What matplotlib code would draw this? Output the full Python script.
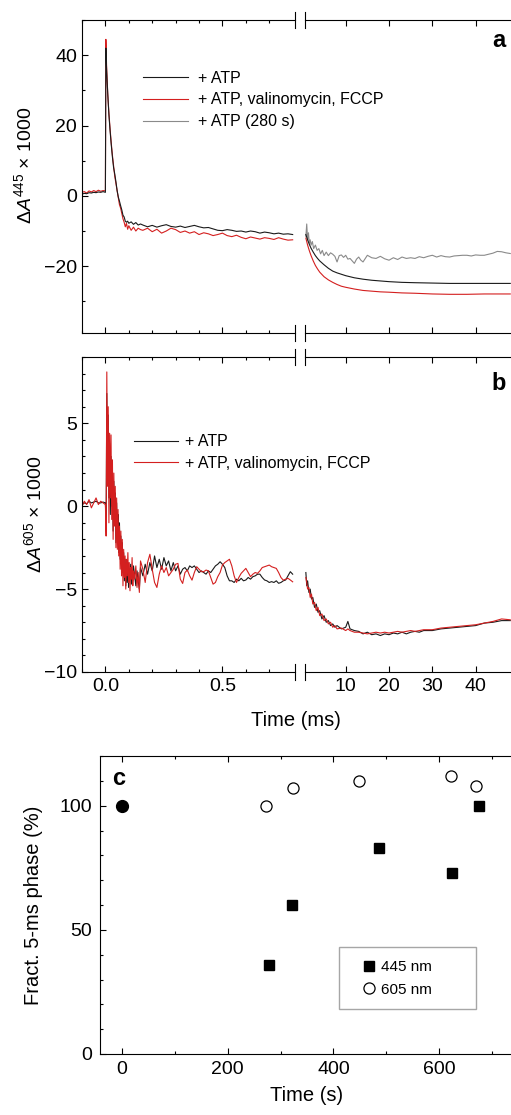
import numpy as np
import matplotlib
matplotlib.use("Agg")
import matplotlib.pyplot as plt
from matplotlib.ticker import MultipleLocator, FixedLocator
from matplotlib.patches import Rectangle
from matplotlib.lines import Line2D

plt.rcParams['font.family'] = ['Liberation Sans', 'DejaVu Sans']
plt.rcParams['mathtext.fontset'] = 'custom'
plt.rcParams['mathtext.rm'] = 'Liberation Sans'
plt.rcParams['mathtext.it'] = 'Liberation Sans:italic'
plt.rcParams['mathtext.bf'] = 'Liberation Sans:bold'
plt.rcParams['axes.unicode_minus'] = True

# ---------------- data: panel a (445 nm) ----------------
ta_left = [-0.10, -0.09, -0.08, -0.07, -0.06, -0.05, -0.04, -0.03, -0.02, -0.01, 0.0,
           0.002, 0.005, 0.01, 0.015, 0.02, 0.025, 0.03, 0.035, 0.04, 0.045, 0.05, 0.055,
           0.06, 0.065, 0.07, 0.075, 0.08, 0.085, 0.09, 0.095, 0.10, 0.11, 0.12, 0.13, 0.14, 0.15,
           0.16, 0.18, 0.20, 0.22, 0.24, 0.26, 0.28, 0.30, 0.32, 0.34, 0.36, 0.38, 0.40, 0.42,
           0.44, 0.46, 0.48, 0.50, 0.52, 0.54, 0.56, 0.58, 0.60, 0.62, 0.64, 0.66, 0.68, 0.70,
           0.72, 0.74, 0.76, 0.78, 0.80]
a_atp_left = [0.5, 0.7, 0.6, 0.9, 0.8, 1.0, 0.9, 1.1, 1.0, 1.2, 1.0,
              42, 36, 29, 23, 18.5, 14.5, 11, 8, 6.2, 4.0, 1.5, -0.3,
              -1.5, -2.8, -4.0, -5.5, -6.0, -7.2, -7.5, -7.2, -7.8, -7.4, -8.1, -7.6, -8.3, -8.0,
              -8.3, -8.8, -8.4, -8.9, -8.5, -8.2, -8.7, -8.9, -8.6, -9.0, -8.7, -8.4, -8.8, -9.1,
              -9.0, -9.4, -9.8, -9.9, -9.6, -9.8, -10.1, -10.0, -10.3, -10.0, -10.2, -10.6, -10.3, -10.5,
              -10.8, -10.6, -10.9, -10.8, -11.0]
a_val_left = [1.0, 1.2, 0.8, 1.4, 1.1, 1.5, 1.2, 1.6, 1.3, 1.5, 1.4,
              44.5, 37, 29, 23.5, 19, 15, 11.5, 8.5, 5.5, 3.5, 1.5, -0.5,
              -2.5, -3.5, -5.0, -6.5, -7.5, -8.8, -7.8, -9.5, -8.5, -9.8, -8.9, -10.0, -9.2, -9.6,
              -9.8, -9.2, -10.2, -9.5, -10.6, -10.0, -9.2, -9.6, -10.4, -10.0, -10.6, -10.2, -11.0, -10.5,
              -10.8, -11.3, -11.0, -10.6, -11.3, -11.6, -11.2, -11.8, -12.2, -11.7, -12.0, -12.3, -11.9, -12.1,
              -12.4, -11.9, -12.3, -12.6, -12.5]

ta_right = [0.8, 1.2, 1.6, 2.0, 2.5, 3, 3.5, 4, 5, 6, 7, 8, 9, 10, 12, 14, 16, 18, 20, 23,
            26, 30, 34, 38, 42, 46, 48]
a_atp_right = [-11.0, -12.5, -13.8, -14.9, -16.0, -17.0, -17.8, -18.5, -19.6, -20.6, -21.4, -21.9,
               -22.3, -22.7, -23.3, -23.7, -24.0, -24.2, -24.4, -24.6, -24.7, -24.8, -24.9, -24.9,
               -24.9, -24.9, -24.9]
a_val_right = [-12.0, -14.0, -15.6, -17.0, -18.5, -19.8, -20.8, -21.7, -23.0, -23.9, -24.6, -25.2,
               -25.7, -26.0, -26.5, -26.9, -27.1, -27.3, -27.4, -27.6, -27.7, -27.9, -28.0, -28.0,
               -27.9, -27.9, -27.9]
ta_gray = [0.8, 1.0, 1.2, 1.4, 1.6, 1.8, 2.0, 2.3, 2.6, 3.0, 3.4, 3.8, 4.2, 4.6, 5.0, 5.5, 6.0,
           6.5, 7.0, 7.5, 8.0, 8.5, 9.0, 9.5, 10, 10.5, 11, 11.5, 12, 12.5, 13, 13.5, 14, 15, 16,
           17, 18, 19, 20, 21, 22, 23, 24, 25, 26, 27, 28, 29, 30, 31, 32, 33, 34, 35, 36, 37, 38,
           39, 40, 41, 42, 43, 44, 45, 46, 47, 48]
a_280s = [-11.5, -8.0, -12.5, -10.5, -13.5, -12.5, -14.0, -13.0, -15.0, -14.0,
          -15.5, -15.0, -16.5, -15.5, -17.0, -16.0, -17.0, -16.2, -16.6, -17.2,
          -18.8, -17.0, -16.8, -17.5, -16.9, -18.0, -17.8, -18.5, -19.2, -18.0,
          -17.4, -18.3, -18.8, -16.9, -17.6, -17.8, -17.2, -17.9, -18.3, -17.6,
          -18.1, -17.4, -17.8, -17.6, -17.8, -17.3, -17.6, -17.2, -16.9, -17.4,
          -17.0, -17.3, -17.4, -17.1, -17.0, -16.9, -16.9, -17.1, -16.8, -16.9,
          -16.9, -16.6, -16.3, -15.8, -15.9, -16.2, -16.4]

# ---------------- data: panel b (605 nm) ----------------
tb_base = [-0.10, -0.09, -0.08, -0.07, -0.06, -0.05, -0.04, -0.03, -0.02, -0.01]
b_atp_base = [0.1, 0.2, 0.15, 0.3, 0.2, 0.25, 0.3, 0.2, 0.2, 0.25]
b_val_base = [0.0, 0.3, 0.1, 0.4, -0.1, 0.2, 0.5, 0.1, 0.3, 0.2]

tb_spike = [0.000, 0.003, 0.006, 0.009, 0.012, 0.015, 0.018, 0.021, 0.024, 0.027, 0.030,
            0.033, 0.036, 0.039, 0.042, 0.045, 0.048, 0.051, 0.054, 0.057, 0.060, 0.063,
            0.066, 0.069, 0.072, 0.075, 0.078, 0.081, 0.084, 0.087, 0.090, 0.093, 0.096,
            0.099, 0.102, 0.105, 0.108, 0.111, 0.114, 0.117, 0.120,
            0.125, 0.130, 0.135, 0.140, 0.145, 0.150]
b_atp_spike = [0.2, -1.2, 6.8, 2.0, 5.5, 0.5, 3.8, -0.5, 3.0, 0.0, 2.2,
               -1.5, 1.5, -1.0, 0.8, -2.2, 0.2, -1.8, -0.5, -2.8, -1.0, -3.2,
               -1.8, -3.5, -2.2, -4.0, -2.8, -4.5, -3.2, -4.8, -3.6, -4.6, -3.4,
               -4.9, -3.8, -4.4, -3.5, -4.7, -3.9, -4.5, -3.6,
               -4.2, -4.8, -3.9, -4.5, -5.0, -3.7]
b_val_spike = [0.1, -1.8, 8.1, 1.2, 6.0, -1.0, 4.4, 0.5, 4.3, -0.8, 2.8,
               -2.0, 2.0, -1.2, 1.2, -2.5, 0.5, -2.6, -0.2, -3.0, -1.2, -3.8,
               -1.5, -4.2, -2.0, -4.8, -2.6, -4.3, -3.0, -5.0, -3.2, -4.2, -2.8,
               -4.6, -3.4, -5.1, -3.7, -4.4, -3.1, -4.8, -3.9,
               -4.4, -3.6, -4.9, -4.0, -5.2, -3.3]

tb_tail = [0.16, 0.17, 0.18, 0.19, 0.20, 0.21, 0.22, 0.23, 0.24, 0.25, 0.26, 0.27, 0.28,
           0.29, 0.30, 0.31, 0.32, 0.33, 0.34, 0.35, 0.36, 0.37, 0.38, 0.39, 0.40, 0.41,
           0.42, 0.43, 0.44, 0.45, 0.46, 0.47, 0.48, 0.49, 0.50, 0.51, 0.52, 0.53, 0.54,
           0.55, 0.56, 0.57, 0.58, 0.59, 0.60, 0.61, 0.62, 0.63, 0.64, 0.65, 0.66, 0.67,
           0.68, 0.69, 0.70, 0.71, 0.72, 0.73, 0.74, 0.75, 0.76, 0.77, 0.78, 0.79, 0.80]
b_atp_tail = [-4.2, -3.5, -4.1, -3.4, -3.9, -3.0, -3.7, -3.2, -3.8, -3.1, -3.6, -3.3, -3.9,
              -3.4, -3.9, -3.6, -4.1, -3.8, -3.7, -3.9, -3.6, -3.7, -3.6, -3.8, -4.0, -3.9,
              -4.0, -4.1, -3.9, -4.0, -3.8, -3.6, -3.5, -3.35, -3.5, -3.7, -4.2, -4.5, -4.5,
              -4.6, -4.4, -4.5, -4.35, -4.5, -4.45, -4.3, -4.4, -4.25, -4.2, -4.1, -4.1, -4.3,
              -4.45, -4.5, -4.6, -4.55, -4.6, -4.5, -4.65, -4.6, -4.5, -4.45, -4.2, -3.95, -4.1]
b_val_tail = [-3.8, -4.6, -3.4, -2.9, -3.8, -4.6, -4.9, -4.1, -3.6, -4.0, -3.7, -4.2, -4.0,
              -3.8, -3.5, -3.45, -4.4, -4.66, -4.0, -3.85, -4.2, -4.46, -4.0, -3.65, -3.8, -3.95,
              -3.95, -3.85, -3.9, -4.3, -4.7, -4.6, -4.25, -4.0, -3.55, -3.4, -3.3, -3.2, -3.6,
              -4.2, -4.6, -4.3, -4.05, -3.9, -3.75, -4.0, -4.25, -4.1, -4.0, -4.05, -3.9, -3.7,
              -3.65, -3.6, -3.55, -3.65, -3.7, -3.75, -4.0, -4.3, -4.46, -4.4, -4.35, -4.45, -4.56]

tb_right = [0.8, 1.0, 1.2, 1.5, 1.8, 2.1, 2.4, 2.8, 3.2, 3.6, 4.0, 4.5, 5.0, 5.5, 6.0, 6.5,
            7.0, 7.5, 8, 9, 10, 10.5, 11, 12, 13, 14, 15, 16, 17, 18, 19, 20, 21, 22, 23, 24,
            25, 26, 27, 28, 30, 32, 34, 36, 38, 40, 42, 44, 46, 48]
b_atp_right = [-4.0, -4.8, -4.5, -5.2, -5.0, -5.6, -5.5, -6.1, -5.9, -6.4,
               -6.3, -6.8, -6.6, -7.0, -6.9, -7.2, -7.1, -7.3, -7.2, -7.4,
               -7.3, -6.95, -7.4, -7.5, -7.55, -7.7, -7.6, -7.75, -7.7, -7.8,
               -7.7, -7.75, -7.65, -7.7, -7.6, -7.7, -7.6, -7.55, -7.6, -7.5,
               -7.5, -7.4, -7.35, -7.3, -7.25, -7.2, -7.05, -7.0, -6.9, -6.9]
b_val_right = [-4.3, -4.6, -5.0, -4.9, -5.5, -5.3, -5.9, -5.8, -6.3, -6.1,
               -6.6, -6.5, -6.9, -6.8, -7.1, -7.0, -7.3, -7.2, -7.4, -7.35,
               -7.5, -7.4, -7.5, -7.6, -7.6, -7.65, -7.7, -7.65, -7.6, -7.65,
               -7.6, -7.65, -7.6, -7.55, -7.6, -7.55, -7.5, -7.55, -7.5, -7.45,
               -7.45, -7.35, -7.3, -7.25, -7.2, -7.15, -7.05, -6.95, -6.8, -6.85]

# ---------------- data: panel c ----------------
t_ref = [0]
f_ref = [100]
t_445 = [279, 321, 486, 624, 675]
f_445 = [35.7, 59.9, 82.9, 73, 99.8]
t_605 = [273, 324, 449, 622, 670]
f_605 = [100, 107, 110, 112, 108]

labels_a = ['+ ATP', '+ ATP, valinomycin, FCCP', '+ ATP (280 s)']
labels_b = ['+ ATP', '+ ATP, valinomycin, FCCP']
labels_c = ['445 nm', '605 nm']

# ---------------- styling ----------------
BLACK = '#1a1a1a'
RED = '#d41f1f'
GRAY = '#8a8a8a'
LW = 0.8
TICK_FS = 14
LABEL_FS = 14.5
LEG_FS = 11.5

W, H = 511, 1115
fig = plt.figure(figsize=(W / 100, H / 100), dpi=100)


def ax_px(l, t, r, b):
    return fig.add_axes([l / W, 1 - b / H, (r - l) / W, (b - t) / H])


def style(ax):
    ax.tick_params(which='both', direction='in', top=True, width=0.8, labelsize=TICK_FS)
    ax.tick_params(which='major', length=4)
    ax.tick_params(which='minor', length=2.5)
    for s in ax.spines.values():
        s.set_linewidth(0.8)


def breakmarks(axl, axr, hpx):
    d = 8.0 / hpx
    for y in (0, 1):
        axl.plot([1, 1], [y - d, y + d], transform=axl.transAxes, color='black', lw=0.8, clip_on=False)
        axr.plot([0, 0], [y - d, y + d], transform=axr.transAxes, color='black', lw=0.8, clip_on=False)


def broken_pair(top, bottom, ylim, ymaj, ymin):
    axl = ax_px(82, top, 295, bottom)
    axr = ax_px(305, top, 514.6, bottom)
    for ax in (axl, axr):
        style(ax)
        ax.set_ylim(*ylim)
    axl.set_xlim(-0.1, 0.81)
    axr.set_xlim(0.6, 49)
    axl.xaxis.set_major_locator(FixedLocator([0.0, 0.5]))
    axl.xaxis.set_minor_locator(FixedLocator([-0.1, 0.1, 0.2, 0.3, 0.4, 0.6, 0.7]))
    axl.xaxis.set_major_formatter(plt.FuncFormatter(lambda v, p: f'{v:.1f}'))
    axr.xaxis.set_major_locator(FixedLocator([10, 20, 30, 40]))
    axl.yaxis.set_major_locator(MultipleLocator(ymaj))
    axl.yaxis.set_minor_locator(MultipleLocator(ymin))
    axl.spines['right'].set_visible(False)
    axr.spines['left'].set_visible(False)
    axl.tick_params(which='both', right=False)
    axr.tick_params(which='both', left=False, right=False, labelleft=False)
    axl.tick_params(axis='y', pad=3.5)
    axl.tick_params(axis='x', pad=4)
    axr.tick_params(axis='x', pad=4)
    breakmarks(axl, axr, bottom - top)
    return axl, axr


# ---------------- panel a ----------------
aL, aR = broken_pair(20, 333, (-39, 50), 20, 10)
aL.plot(ta_left, a_val_left, color=RED, lw=LW)
aL.plot(ta_left, a_atp_left, color=BLACK, lw=LW)
aR.plot(ta_gray, a_280s, color=GRAY, lw=LW)
aR.plot(ta_right, a_val_right, color=RED, lw=LW)
aR.plot(ta_right, a_atp_right, color=BLACK, lw=LW)
for ax in (aL, aR):
    ax.tick_params(axis='x', labelbottom=False)
aL.set_ylabel(r'$\Delta \mathit{A}^{445}$ × 1000', fontsize=14)
aL.yaxis.set_label_coords(-(82 - 35) / 213, 0.5 + (176.5 - 165) / 313)
hA = [Line2D([], [], color=c, lw=LW) for c in (BLACK, RED, GRAY)]
fig.legend(hA, labels_a, loc='center left', bbox_to_anchor=(143 / W, 1 - 100 / H),
           frameon=False, fontsize=LEG_FS, handlelength=2.8, handletextpad=0.62,
           labelspacing=0.43, borderpad=0, borderaxespad=0)
fig.text(505 / W, 1 - 47 / H, 'a', fontsize=17, fontweight='bold', ha='right', va='baseline')

# ---------------- panel b ----------------
bL, bR = broken_pair(357, 672, (-10, 9), 5, 1)
bL.plot(tb_base + tb_spike + tb_tail, b_atp_base + b_atp_spike + b_atp_tail, color=BLACK, lw=LW)
bL.plot(tb_base + tb_spike + tb_tail, b_val_base + b_val_spike + b_val_tail, color=RED, lw=LW)
bR.plot(tb_right, b_atp_right, color=BLACK, lw=LW)
bR.plot(tb_right, b_val_right, color=RED, lw=LW)
bL.set_ylabel(r'$\Delta \mathit{A}^{605}$ × 1000', fontsize=14)
bL.yaxis.set_label_coords(-(82 - 45) / 213, 0.5)
hB = [Line2D([], [], color=c, lw=LW) for c in (BLACK, RED)]
fig.legend(hB, labels_b, loc='center left', bbox_to_anchor=(134 / W, 1 - 452.5 / H),
           frameon=False, fontsize=LEG_FS, handlelength=2.75, handletextpad=0.42,
           labelspacing=0.38, borderpad=0, borderaxespad=0)
fig.text(506 / W, 1 - 390 / H, 'b', fontsize=17, fontweight='bold', ha='right', va='baseline')
fig.text(296 / W, 1 - 720 / H, 'Time (ms)', fontsize=LABEL_FS, ha='center', va='center')

# ---------------- panel c ----------------
c = ax_px(100, 756, 100 + 782 * 0.528, 1054)
style(c)
c.set_xlim(-42, 740)
c.set_ylim(0, 120)
c.xaxis.set_major_locator(MultipleLocator(200))
c.xaxis.set_minor_locator(MultipleLocator(100))
c.yaxis.set_major_locator(MultipleLocator(50))
c.yaxis.set_minor_locator(MultipleLocator(10))
c.tick_params(which='both', right=False)
c.tick_params(axis='y', pad=5.5)
c.tick_params(axis='x', pad=5)
c.plot(t_445, f_445, ls='none', marker='s', ms=7.2, color='black', mec='black')
c.plot(t_605, f_605, ls='none', marker='o', ms=8, mfc='white', mec='black', mew=0.9)
c.plot(t_ref, f_ref, ls='none', marker='o', ms=8.5, color='black')
c.set_xlabel('Time (s)', fontsize=LABEL_FS, labelpad=6)
c.set_ylabel('Fract. 5-ms phase (%)', fontsize=LABEL_FS)
c.yaxis.set_label_coords(-(100 - 43) / 412.9, 0.5)
fig.text(112 / W, 1 - 785 / H, 'c', fontsize=17, fontweight='bold', ha='left', va='baseline')
fig.add_artist(Rectangle((339 / W, 1 - 1009 / H), (476 - 339) / W, (1009 - 947) / H,
                         transform=fig.transFigure, fill=False, edgecolor='#a6a6a6', lw=1))
hC = [Line2D([], [], ls='none', marker='s', ms=7.2, color='black'),
      Line2D([], [], ls='none', marker='o', ms=8, mfc='white', mec='black', mew=0.9)]
fig.legend(hC, labels_c, loc='center left', bbox_to_anchor=(361.5 / W, 1 - 978.3 / H),
           frameon=False, fontsize=11, handlelength=1.0, handletextpad=0.28,
           labelspacing=0.56, borderpad=0, borderaxespad=0)

fig.savefig('out.png', dpi=100)
